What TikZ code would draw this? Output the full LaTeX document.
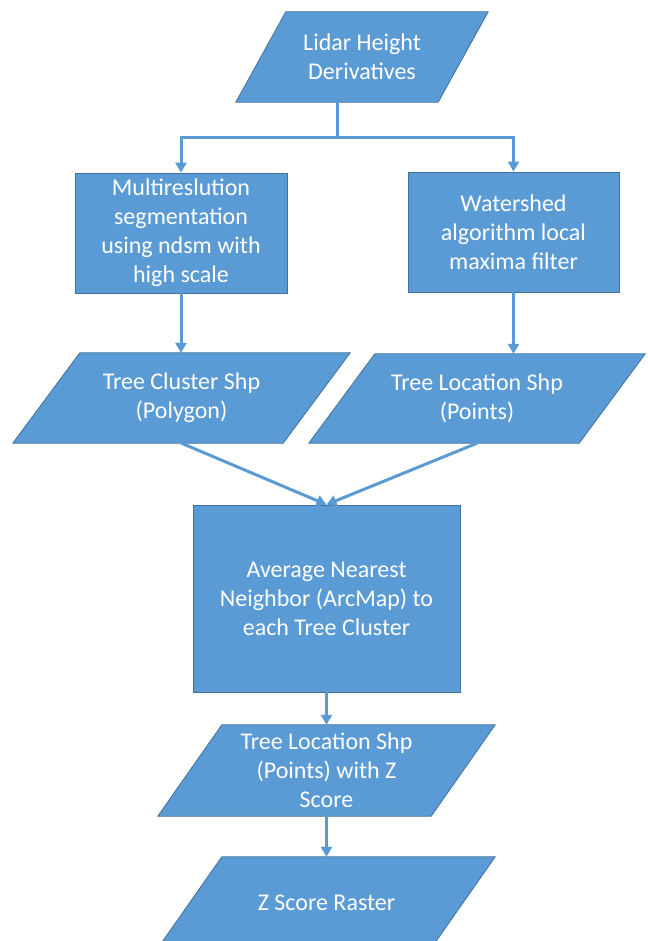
\documentclass[tikz,border=0pt]{standalone}
\usepackage{fontspec}
\setmainfont{Carlito}
\usepackage{xcolor}
\usepackage{tikz}
\usetikzlibrary{arrows.meta,backgrounds,positioning}
\definecolor{flowblue}{HTML}{5B9BD5}
\definecolor{flowedge}{HTML}{41719C}

\begin{document}
\begin{tikzpicture}[
    x=1pt, y=-1pt,
    box/.style={rectangle, draw=flowedge, line width=0.8pt, fill=flowblue, text=white, align=center, inner sep=0pt, font=\fontsize{24}{29}\selectfont},
    databox/.style={rectangle, text=white, align=center, inner sep=0pt, font=\fontsize{24}{29}\selectfont},
    dataface/.style={fill=flowblue, draw=flowedge, line width=0.8pt},
    line/.style={flowblue, line width=3pt},
    arrow/.style={line, -{Triangle[width=11pt,length=10pt]}}
]
\useasboundingbox (0,0) rectangle (647,941);

% Input data
\node[databox, minimum width=202pt, minimum height=90pt] (lidar) at (362,57) {Lidar Height\\Derivatives};

% Two processing branches
\node[box, minimum width=212pt, minimum height=120pt] (multi) at (181,233) {Multireslution\\segmentation\\using ndsm with\\high scale};
\node[box, minimum width=211pt, minimum height=120pt] (water) at (513.5,232) {Watershed\\algorithm local\\maxima filter};

% Shapefiles
\node[databox, minimum width=270pt, minimum height=90pt] (cluster) at (181.5,398) {Tree Cluster Shp\\(Polygon)};
\node[databox, minimum width=270pt, minimum height=89pt] (location) at (477,398.5) {Tree Location Shp\\(Points)};

% Analysis
\node[box, minimum width=267pt, minimum height=187pt] (avg) at (326.5,598.5) {Average Nearest\\Neighbor (ArcMap) to\\each Tree Cluster};

% Outputs
\node[databox, minimum width=273pt, minimum height=91pt] (zloc) at (326.5,770.5) {Tree Location Shp\\(Points) with Z\\Score};
\node[databox, minimum width=273pt, minimum height=91pt] (raster) at (326.5,902.5) {Z Score Raster};

% Parallelograms behind the data nodes
\begin{scope}[on background layer]
\foreach \n/\s in {lidar/25pt, cluster/33.5pt, location/33pt, zloc/32pt, raster/32pt}
    \draw[dataface] ([xshift=\s]\n.north west) -- ([xshift=\s]\n.north east)
        -- ([xshift=-\s]\n.south east) -- ([xshift=-\s]\n.south west) -- cycle;
\end{scope}

% Split from the input
\coordinate (split) at ([xshift=-25pt,yshift=-35pt]lidar.south);
\draw[line] ([xshift=-25pt]lidar.south) -- (split);
\draw[arrow] (split) -| (multi);
\draw[arrow] (split) -| (water);

% Branches to shapefiles
\draw[arrow] (multi) -- (multi |- cluster.north);
\draw[arrow] (water) -- (water |- location.north);

% Shapefiles to analysis
\draw[arrow] (cluster.south) -- (avg.north);
\draw[arrow] (location.south) -- (avg.north);

% Analysis to outputs
\draw[arrow] (avg) -- (zloc);
\draw[arrow] (zloc) -- (raster);

\end{tikzpicture}
\end{document}
